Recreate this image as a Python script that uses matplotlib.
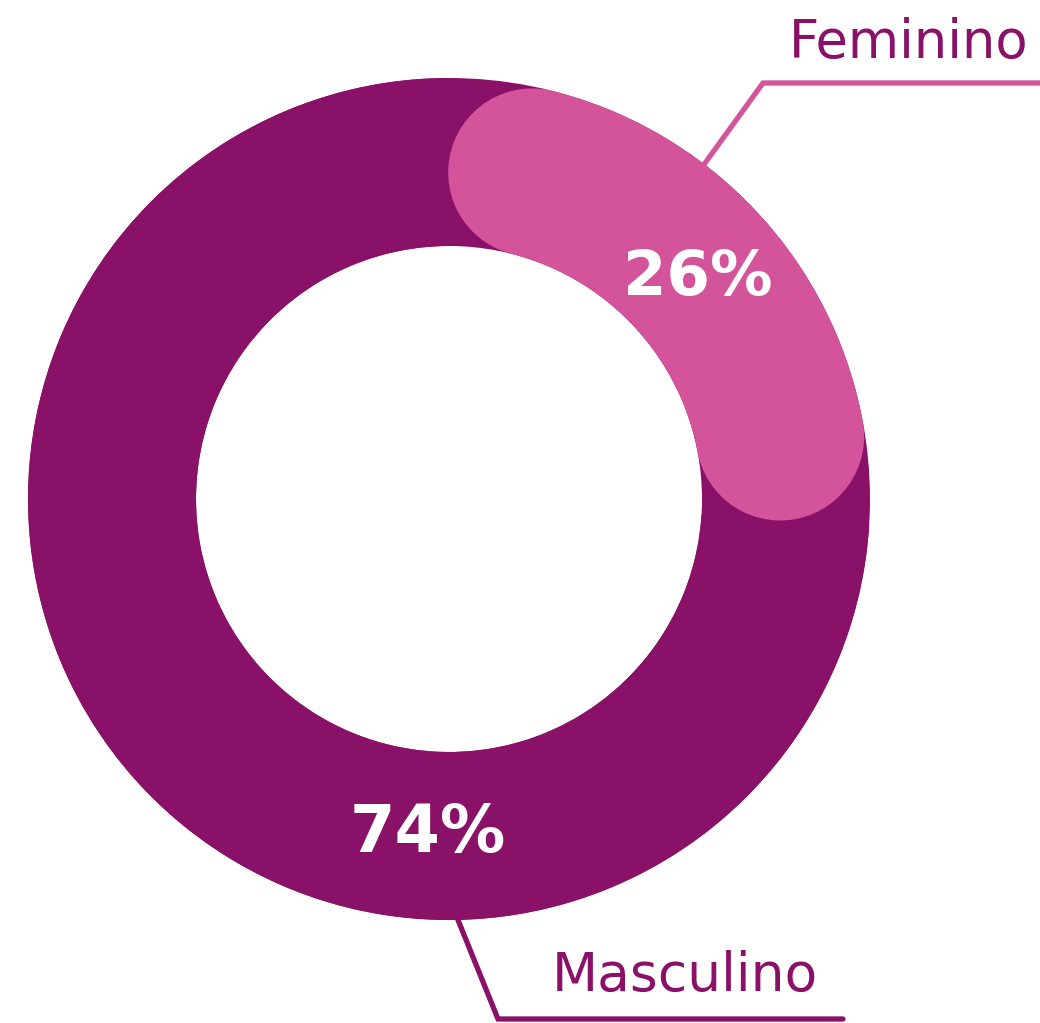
import numpy as np
import matplotlib
matplotlib.use('Agg')
import matplotlib.pyplot as plt
from matplotlib.patches import Wedge

categories = ['Feminino', 'Masculino']
values = [26, 74]
pct_labels = ['26%', '74%']
colors = ['#D4549C', '#8A1168']

W, H = 1040, 1023
fig = plt.figure(figsize=(W / 100, H / 100), dpi=100)
ax = fig.add_axes([0, 0, 1, 1])
ax.set_xlim(0, W)
ax.set_ylim(H, 0)
ax.axis('off')

cx, cy = 449, 499
R = 421
ring_w = 168
rmid = R - ring_w / 2

total = sum(values)
start = 90.0
spans = [v / total * 360 for v in values]

# background track
ax.add_patch(Wedge((cx, cy), R, 0, 360, width=ring_w, facecolor=colors[1], edgecolor='none'))

# Masculino wedge (visual clockwise after Feminino)
fem_end = start - spans[0]
masc_end = fem_end - spans[1]
ax.add_patch(Wedge((cx, cy), R, -fem_end, -masc_end, width=ring_w,
                   facecolor=colors[1], edgecolor='none'))

# Feminino rounded arc
cap = np.degrees((ring_w / 2) / rmid)
th = np.radians(np.linspace(start - cap, fem_end + cap, 400))
ax.plot(cx + rmid * np.cos(th), cy - rmid * np.sin(th), color=colors[0],
        lw=ring_w * 72 / 100, solid_capstyle='round')

# percentage labels
ax.text(698, 295, pct_labels[0], color='white', fontsize=45, fontweight='bold',
        ha='center', va='baseline', family='DejaVu Sans')
ax.text(428, 852, pct_labels[1], color='white', fontsize=47, fontweight='bold',
        ha='center', va='baseline', family='DejaVu Sans')

# leader lines
ax.plot([700, 763, 1040], [170, 83, 83], color=colors[0], lw=3.8,
        solid_capstyle='butt', solid_joinstyle='miter')
ax.plot([456, 498, 843], [915, 1019, 1019], color=colors[1], lw=3.8,
        solid_capstyle='round', solid_joinstyle='miter')

# category labels
ax.text(1028, 58, categories[0], color=colors[1], fontsize=38, ha='right',
        va='baseline', family='DejaVu Sans')
ax.text(552, 991, categories[1], color=colors[1], fontsize=38.5, ha='left',
        va='baseline', family='DejaVu Sans')

fig.savefig('out.png', dpi=100)
